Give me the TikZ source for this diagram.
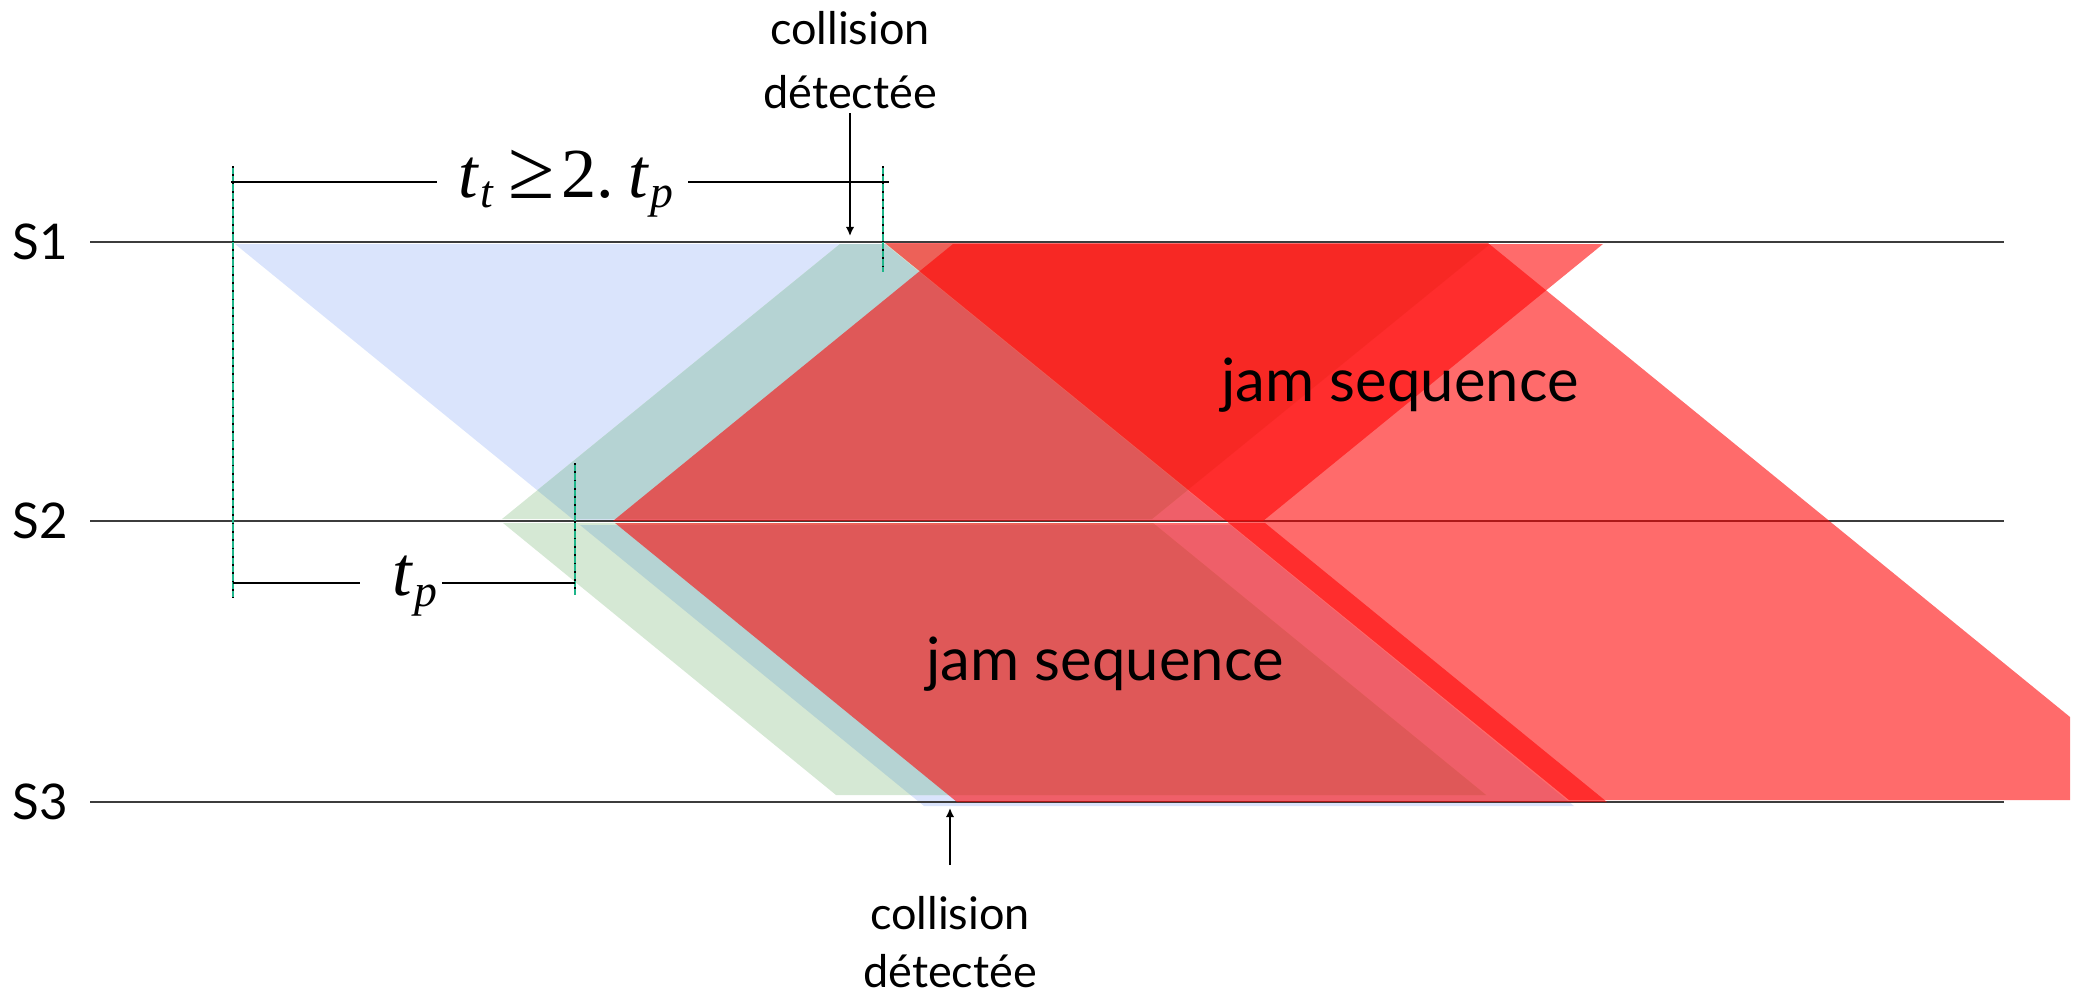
\documentclass[tikz,border=0pt]{standalone}
\usepackage{fontspec}
\setmainfont{Lato}
\newfontfamily\mathserif{Liberation Serif}
\usetikzlibrary{arrows.meta}

\definecolor{frameblue}{HTML}{DAE4FC}
\definecolor{framegreen}{HTML}{D5E8D4}
\definecolor{frameteal}{HTML}{B5D3D3}
\definecolor{guidegreen}{HTML}{1FB58A}
\definecolor{axisgray}{HTML}{3C3C3C}

% italic variable with an italic subscript, set in the serif face
\newcommand\tvar[1]{\textit{t}\kern0.02em\raisebox{-0.32ex}{\fontsize{13}{13}\selectfont\textit{#1}}}

\begin{document}
\begin{tikzpicture}[x=0.1mm,y=-0.1mm,
  station/.style={draw=axisgray,line width=0.5pt},
  stalabel/.style={font=\fontsize{14}{16}\selectfont,inner sep=0pt},
  jam/.style={fill=red,fill opacity=0.58},
  guide/.style={draw=guidegreen,line width=0.45pt,
     postaction={draw=black,line width=0.75pt,dash pattern=on 0.5pt off 1.86pt}},
  dim/.style={draw=black,line width=0.4pt},
  dimlbl/.style={font=\mathserif\fontsize{20}{20}\selectfont,inner sep=0pt},
  note/.style={font=\fontsize{12.8}{18}\selectfont,align=center,inner sep=0pt},
  marker/.style={draw=black,line width=0.45pt,-{Latex[length=2.6pt,width=2.4pt]}},
  jamlbl/.style={font=\fontsize{17}{20}\selectfont,inner sep=0pt}]

\useasboundingbox (0,0) rectangle (2082,995);

% corners of the frame sent by S1 (blue), split at S2
\coordinate (bu1) at (235,244);  \coordinate (bu2) at (885,244);
\coordinate (bu3) at (1225,521); \coordinate (bu4) at (575,521);
\coordinate (bl1) at (580,525);  \coordinate (bl2) at (1230,525);
\coordinate (bl3) at (1574,806); \coordinate (bl4) at (924,806);
% corners of the frame sent by S2 (green), up and down
\coordinate (gu1) at (502,519);  \coordinate (gu2) at (840,244);
\coordinate (gu3) at (1490,244); \coordinate (gu4) at (1152,519);
\coordinate (gl1) at (503,523);  \coordinate (gl2) at (1153,523);
\coordinate (gl3) at (1486,795); \coordinate (gl4) at (836,795);
% jam sent by S2
\coordinate (ru1) at (613,521);  \coordinate (ru2) at (953,244);
\coordinate (ru3) at (1603,244); \coordinate (ru4) at (1263,521);
\coordinate (rl1) at (615,523);  \coordinate (rl2) at (1265,523);
\coordinate (rl3) at (1607,802); \coordinate (rl4) at (957,802);
% jam sent by S1
\coordinate (ra1) at (885,243);  \coordinate (ra2) at (1488,243);
\coordinate (ra3) at (2070,717); \coordinate (ra4) at (2070,800);
\coordinate (ra5) at (1569,800);

% frames
\fill[frameblue] (bu1) -- (bu2) -- (bu3) -- (bu4) -- cycle;
\fill[frameblue] (bl1) -- (bl2) -- (bl3) -- (bl4) -- cycle;
\fill[framegreen] (gu1) -- (gu2) -- (gu3) -- (gu4) -- cycle;
\fill[framegreen] (gl1) -- (gl2) -- (gl3) -- (gl4) -- cycle;
% where both frames overlap
\begin{scope}
  \clip (bu1) -- (bu2) -- (bu3) -- (bu4) -- cycle;
  \fill[frameteal] (gu1) -- (gu2) -- (gu3) -- (gu4) -- cycle;
\end{scope}
\begin{scope}
  \clip (bl1) -- (bl2) -- (bl3) -- (bl4) -- cycle;
  \fill[frameteal] (gl1) -- (gl2) -- (gl3) -- (gl4) -- cycle;
\end{scope}

% station lines
\coordinate (s1a) at (90,242);  \coordinate (s1b) at (2004,242);
\coordinate (s2a) at (90,521);  \coordinate (s2b) at (2004,521);
\coordinate (s3a) at (90,802);  \coordinate (s3b) at (2004,802);
\draw[station] (s1a) -- (s1b);
\draw[station] (s2a) -- (s2b);
\draw[station] (s3a) -- (s3b);
\node[stalabel] (S1) at (40,242) {S1};
\node[stalabel] (S2) at (40,521) {S2};
\node[stalabel] (S3) at (40,802) {S3};

% jam sequences
\fill[jam] (ru1) -- (ru2) -- (ru3) -- (ru4) -- cycle;
\fill[jam] (rl1) -- (rl2) -- (rl3) -- (rl4) -- cycle;
\fill[jam] (ra1) -- (ra2) -- (ra3) -- (ra4) -- (ra5) -- cycle;
\node[jamlbl] (jamA) at (1400,385) {jam sequence};
\node[jamlbl] (jamB) at (1105,664) {jam sequence};

% timing guides
\coordinate (gA1) at (233,166); \coordinate (gA2) at (233,598);
\coordinate (gB1) at (883,166); \coordinate (gB2) at (883,272);
\coordinate (gC1) at (575,463); \coordinate (gC2) at (575,595);
\draw[guide] (gA1) -- (gA2);
\draw[guide] (gB1) -- (gB2);
\draw[guide] (gC1) -- (gC2);

% t_t dimension
\coordinate (ttL) at (231,182); \coordinate (ttR) at (889,182);
\node[dimlbl] (ttl) at (566,184) {\tvar{t}\hspace{0.2em}\raisebox{-0.05ex}{\scalebox{1.2}{≥}}\hspace{0.1em}2.\hspace{0.2em}\tvar{p}};
\draw[dim] (ttL) -- ([xshift=-6pt]ttl.west |- ttL);
\draw[dim] ([xshift=4pt]ttl.east |- ttR) -- (ttR);

% t_p dimension
\coordinate (tpL) at (233,583); \coordinate (tpR) at (575,583);
\node[dimlbl] (tpl) at (415,586) {\tvar{p}};
\draw[dim] (tpL) -- ([xshift=-9pt]tpl.west |- tpL);
\draw[dim] ([xshift=1pt]tpl.east |- tpR) -- (tpR);

% collision markers
\node[note] (colA) at (850,60) {collision\\détectée};
\coordinate (colAt) at (850,113); \coordinate (colAh) at (850,236);
\draw[marker] (colAt) -- (colAh);
\node[note,font=\fontsize{12.8}{16.5}\selectfont] (colB) at (950,942) {collision\\détectée};
\coordinate (colBt) at (950,865); \coordinate (colBh) at (950,808);
\draw[marker] (colBt) -- (colBh);
\end{tikzpicture}
\end{document}
